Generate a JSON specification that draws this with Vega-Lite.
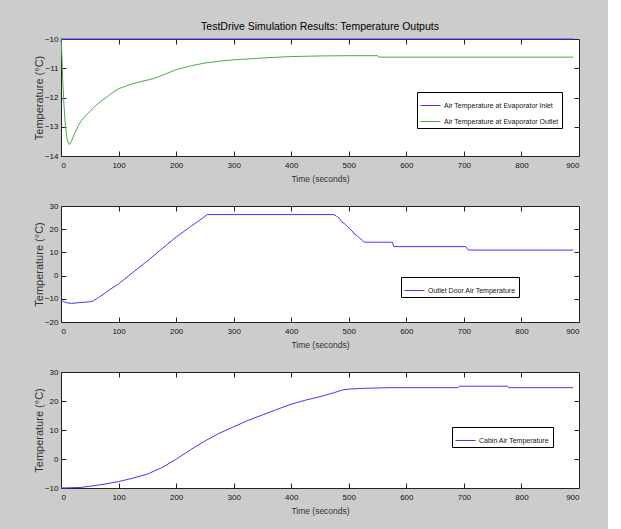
{
  "$schema": "https://vega.github.io/schema/vega-lite/v6.json",
  "autosize": {"type": "pad"},
  "padding": {"left": 32, "top": 21, "right": 28, "bottom": 14},
  "background": "#cccccc",
  "bounds": "flush",
  "spacing": 50,
  "resolve": {"scale": {"color": "independent"}, "legend": {"color": "independent"}},
  "datasets": {
    "evap": [
      {"series": "Air Temperature at Evaporator Inlet", "t": 0, "temp": -10},
      {"series": "Air Temperature at Evaporator Inlet", "t": 890, "temp": -10},
      {"series": "Air Temperature at Evaporator Outlet", "t": 0, "temp": -10.0},
      {"series": "Air Temperature at Evaporator Outlet", "t": 1, "temp": -10.3},
      {"series": "Air Temperature at Evaporator Outlet", "t": 2, "temp": -10.8},
      {"series": "Air Temperature at Evaporator Outlet", "t": 3, "temp": -11.4},
      {"series": "Air Temperature at Evaporator Outlet", "t": 5, "temp": -12.2},
      {"series": "Air Temperature at Evaporator Outlet", "t": 7, "temp": -12.8},
      {"series": "Air Temperature at Evaporator Outlet", "t": 9, "temp": -13.2},
      {"series": "Air Temperature at Evaporator Outlet", "t": 11, "temp": -13.45},
      {"series": "Air Temperature at Evaporator Outlet", "t": 13, "temp": -13.58},
      {"series": "Air Temperature at Evaporator Outlet", "t": 15, "temp": -13.6},
      {"series": "Air Temperature at Evaporator Outlet", "t": 18, "temp": -13.5},
      {"series": "Air Temperature at Evaporator Outlet", "t": 21, "temp": -13.35},
      {"series": "Air Temperature at Evaporator Outlet", "t": 25, "temp": -13.17},
      {"series": "Air Temperature at Evaporator Outlet", "t": 30, "temp": -12.97},
      {"series": "Air Temperature at Evaporator Outlet", "t": 35, "temp": -12.8},
      {"series": "Air Temperature at Evaporator Outlet", "t": 40, "temp": -12.68},
      {"series": "Air Temperature at Evaporator Outlet", "t": 50, "temp": -12.48},
      {"series": "Air Temperature at Evaporator Outlet", "t": 60, "temp": -12.28},
      {"series": "Air Temperature at Evaporator Outlet", "t": 70, "temp": -12.12},
      {"series": "Air Temperature at Evaporator Outlet", "t": 80, "temp": -11.98},
      {"series": "Air Temperature at Evaporator Outlet", "t": 90, "temp": -11.83},
      {"series": "Air Temperature at Evaporator Outlet", "t": 100, "temp": -11.7},
      {"series": "Air Temperature at Evaporator Outlet", "t": 120, "temp": -11.56},
      {"series": "Air Temperature at Evaporator Outlet", "t": 140, "temp": -11.45},
      {"series": "Air Temperature at Evaporator Outlet", "t": 160, "temp": -11.36},
      {"series": "Air Temperature at Evaporator Outlet", "t": 180, "temp": -11.21},
      {"series": "Air Temperature at Evaporator Outlet", "t": 200, "temp": -11.05},
      {"series": "Air Temperature at Evaporator Outlet", "t": 225, "temp": -10.92},
      {"series": "Air Temperature at Evaporator Outlet", "t": 250, "temp": -10.82},
      {"series": "Air Temperature at Evaporator Outlet", "t": 275, "temp": -10.76},
      {"series": "Air Temperature at Evaporator Outlet", "t": 300, "temp": -10.71},
      {"series": "Air Temperature at Evaporator Outlet", "t": 350, "temp": -10.65},
      {"series": "Air Temperature at Evaporator Outlet", "t": 400, "temp": -10.6},
      {"series": "Air Temperature at Evaporator Outlet", "t": 450, "temp": -10.58},
      {"series": "Air Temperature at Evaporator Outlet", "t": 500, "temp": -10.57},
      {"series": "Air Temperature at Evaporator Outlet", "t": 550, "temp": -10.57},
      {"series": "Air Temperature at Evaporator Outlet", "t": 552, "temp": -10.62},
      {"series": "Air Temperature at Evaporator Outlet", "t": 890, "temp": -10.62}
    ],
    "outlet": [
      {"series": "Outlet Door Air Temperature", "t": 0, "temp": -10.5},
      {"series": "Outlet Door Air Temperature", "t": 5, "temp": -11.3},
      {"series": "Outlet Door Air Temperature", "t": 10, "temp": -11.7},
      {"series": "Outlet Door Air Temperature", "t": 18, "temp": -12.0},
      {"series": "Outlet Door Air Temperature", "t": 25, "temp": -11.8},
      {"series": "Outlet Door Air Temperature", "t": 35, "temp": -11.6},
      {"series": "Outlet Door Air Temperature", "t": 50, "temp": -11.3},
      {"series": "Outlet Door Air Temperature", "t": 55, "temp": -11.0},
      {"series": "Outlet Door Air Temperature", "t": 65, "temp": -9.5},
      {"series": "Outlet Door Air Temperature", "t": 75, "temp": -7.8},
      {"series": "Outlet Door Air Temperature", "t": 85, "temp": -6.0},
      {"series": "Outlet Door Air Temperature", "t": 100, "temp": -3.6},
      {"series": "Outlet Door Air Temperature", "t": 125, "temp": 1.4},
      {"series": "Outlet Door Air Temperature", "t": 150, "temp": 6.3},
      {"series": "Outlet Door Air Temperature", "t": 175, "temp": 11.5},
      {"series": "Outlet Door Air Temperature", "t": 200, "temp": 16.6},
      {"series": "Outlet Door Air Temperature", "t": 225, "temp": 21.1},
      {"series": "Outlet Door Air Temperature", "t": 250, "temp": 25.5},
      {"series": "Outlet Door Air Temperature", "t": 254, "temp": 26.3},
      {"series": "Outlet Door Air Temperature", "t": 474, "temp": 26.3},
      {"series": "Outlet Door Air Temperature", "t": 478, "temp": 25.8},
      {"series": "Outlet Door Air Temperature", "t": 480, "temp": 25.3},
      {"series": "Outlet Door Air Temperature", "t": 484, "temp": 24.7},
      {"series": "Outlet Door Air Temperature", "t": 486, "temp": 23.8},
      {"series": "Outlet Door Air Temperature", "t": 488, "temp": 23.0},
      {"series": "Outlet Door Air Temperature", "t": 492, "temp": 22.5},
      {"series": "Outlet Door Air Temperature", "t": 495, "temp": 21.8},
      {"series": "Outlet Door Air Temperature", "t": 498, "temp": 21.0},
      {"series": "Outlet Door Air Temperature", "t": 502, "temp": 20.0},
      {"series": "Outlet Door Air Temperature", "t": 506, "temp": 19.2},
      {"series": "Outlet Door Air Temperature", "t": 510, "temp": 17.9},
      {"series": "Outlet Door Air Temperature", "t": 514, "temp": 17.3},
      {"series": "Outlet Door Air Temperature", "t": 518, "temp": 16.3},
      {"series": "Outlet Door Air Temperature", "t": 521, "temp": 15.8},
      {"series": "Outlet Door Air Temperature", "t": 524, "temp": 15.0},
      {"series": "Outlet Door Air Temperature", "t": 527, "temp": 14.4},
      {"series": "Outlet Door Air Temperature", "t": 576, "temp": 14.4},
      {"series": "Outlet Door Air Temperature", "t": 578, "temp": 12.5},
      {"series": "Outlet Door Air Temperature", "t": 703, "temp": 12.5},
      {"series": "Outlet Door Air Temperature", "t": 708, "temp": 11.0},
      {"series": "Outlet Door Air Temperature", "t": 890, "temp": 11.0}
    ],
    "cabin": [
      {"series": "Cabin Air Temperature", "t": 0, "temp": -10.0},
      {"series": "Cabin Air Temperature", "t": 35, "temp": -9.8},
      {"series": "Cabin Air Temperature", "t": 50, "temp": -9.4},
      {"series": "Cabin Air Temperature", "t": 75, "temp": -8.7},
      {"series": "Cabin Air Temperature", "t": 100, "temp": -7.8},
      {"series": "Cabin Air Temperature", "t": 125, "temp": -6.6},
      {"series": "Cabin Air Temperature", "t": 150, "temp": -5.2},
      {"series": "Cabin Air Temperature", "t": 175, "temp": -3.0},
      {"series": "Cabin Air Temperature", "t": 200, "temp": -0.1},
      {"series": "Cabin Air Temperature", "t": 225, "temp": 3.2},
      {"series": "Cabin Air Temperature", "t": 250, "temp": 6.2},
      {"series": "Cabin Air Temperature", "t": 275, "temp": 8.9},
      {"series": "Cabin Air Temperature", "t": 300, "temp": 11.1},
      {"series": "Cabin Air Temperature", "t": 325, "temp": 13.3},
      {"series": "Cabin Air Temperature", "t": 350, "temp": 15.2},
      {"series": "Cabin Air Temperature", "t": 375, "temp": 17.1},
      {"series": "Cabin Air Temperature", "t": 400, "temp": 18.9},
      {"series": "Cabin Air Temperature", "t": 425, "temp": 20.3},
      {"series": "Cabin Air Temperature", "t": 450, "temp": 21.5},
      {"series": "Cabin Air Temperature", "t": 475, "temp": 22.9},
      {"series": "Cabin Air Temperature", "t": 489, "temp": 23.8},
      {"series": "Cabin Air Temperature", "t": 500, "temp": 24.1},
      {"series": "Cabin Air Temperature", "t": 529, "temp": 24.4},
      {"series": "Cabin Air Temperature", "t": 573, "temp": 24.6},
      {"series": "Cabin Air Temperature", "t": 690, "temp": 24.6},
      {"series": "Cabin Air Temperature", "t": 692, "temp": 25.1},
      {"series": "Cabin Air Temperature", "t": 776, "temp": 25.1},
      {"series": "Cabin Air Temperature", "t": 778, "temp": 24.6},
      {"series": "Cabin Air Temperature", "t": 890, "temp": 24.6}
    ]
  },
  "config": {
    "view": {"stroke": "#222222", "strokeWidth": 1, "fill": "white"},
    "axis": {
      "domain": false,
      "grid": false,
      "ticks": true,
      "tickColor": "#222222",
      "tickSize": -5,
      "labelFont": "Liberation Sans, Arial, sans-serif",
      "labelFontSize": 8,
      "labelColor": "#111111",
      "labelPadding": 8,
      "titleFontWeight": "normal",
      "titleColor": "#333333"
    },
    "axisX": {"titleFont": "Liberation Sans, Arial, sans-serif", "titleFontSize": 8.5, "titlePadding": 5, "labelPadding": 10},
    "axisY": {"titleFont": "Liberation Sans, Arial, sans-serif", "titleFontSize": 11, "titlePadding": 0},
    "legend": {
      "title": null,
      "orient": "none",
      "fillColor": "white",
      "strokeColor": "#000000",
      "padding": 3,
      "cornerRadius": 0,
      "symbolType": "stroke",
      "symbolSize": 400,
      "symbolStrokeWidth": 1.5,
      "symbolOpacity": 1,
      "labelFont": "Liberation Sans, Arial, sans-serif",
      "labelFontSize": 7,
      "labelColor": "#111111",
      "labelOffset": 3,
      "rowPadding": 2,
      "labelLimit": 300
    },
    "line": {"strokeWidth": 1}
  },
  "vconcat": [
    {
      "title": {"text": "TestDrive Simulation Results: Temperature Outputs", "font": "Liberation Sans, Arial, sans-serif", "fontSize": 10.5, "fontWeight": "normal", "color": "#000000", "anchor": "middle", "offset": 3},
      "width": 518,
      "height": 117,
      "data": {"name": "evap"},
      "layer": [
        {
          "mark": "line",
          "encoding": {
            "x": {"field": "t", "type": "quantitative", "scale": {"domain": [0, 900], "nice": false}, "axis": {"values": [0, 100, 200, 300, 400, 500, 600, 700, 800, 900], "title": "Time (seconds)"}},
            "y": {"field": "temp", "type": "quantitative", "scale": {"domain": [-14, -10], "nice": false, "zero": false}, "axis": {"values": [-14, -13, -12, -11, -10], "title": "Temperature (°C)"}},
            "color": {"field": "series", "type": "nominal", "scale": {"domain": ["Air Temperature at Evaporator Inlet", "Air Temperature at Evaporator Outlet"], "range": ["#3a3aff", "#4aaa4a"]}, "legend": {"legendX": 356, "legendY": 53}}
          }
        },
        {
          "mark": {"type": "line", "opacity": 0},
          "encoding": {
            "x": {"field": "t", "type": "quantitative", "axis": {"orient": "top", "labels": false, "title": null, "values": [100, 200, 300, 400, 500, 600, 700, 800]}},
            "y": {"field": "temp", "type": "quantitative", "axis": {"orient": "right", "labels": false, "title": null, "values": [-13, -12, -11]}}
          }
        }
      ],
      "resolve": {"axis": {"x": "independent", "y": "independent"}}
    },
    {
      "width": 518,
      "height": 116,
      "data": {"name": "outlet"},
      "layer": [
        {
          "mark": "line",
          "encoding": {
            "x": {"field": "t", "type": "quantitative", "scale": {"domain": [0, 900], "nice": false}, "axis": {"values": [0, 100, 200, 300, 400, 500, 600, 700, 800, 900], "title": "Time (seconds)"}},
            "y": {"field": "temp", "type": "quantitative", "scale": {"domain": [-20, 30], "nice": false, "zero": false}, "axis": {"values": [-20, -10, 0, 10, 20, 30], "title": "Temperature (°C)"}},
            "color": {"field": "series", "type": "nominal", "scale": {"domain": ["Outlet Door Air Temperature"], "range": ["#3a3aff"]}, "legend": {"legendX": 340, "legendY": 71}}
          }
        },
        {
          "mark": {"type": "line", "opacity": 0},
          "encoding": {
            "x": {"field": "t", "type": "quantitative", "axis": {"orient": "top", "labels": false, "title": null, "values": [100, 200, 300, 400, 500, 600, 700, 800]}},
            "y": {"field": "temp", "type": "quantitative", "axis": {"orient": "right", "labels": false, "title": null, "values": [-10, 0, 10, 20]}}
          }
        }
      ],
      "resolve": {"axis": {"x": "independent", "y": "independent"}}
    },
    {
      "width": 518,
      "height": 116,
      "data": {"name": "cabin"},
      "layer": [
        {
          "mark": "line",
          "encoding": {
            "x": {"field": "t", "type": "quantitative", "scale": {"domain": [0, 900], "nice": false}, "axis": {"values": [0, 100, 200, 300, 400, 500, 600, 700, 800, 900], "title": "Time (seconds)"}},
            "y": {"field": "temp", "type": "quantitative", "scale": {"domain": [-10, 30], "nice": false, "zero": false}, "axis": {"values": [-10, 0, 10, 20, 30], "title": "Temperature (°C)"}},
            "color": {"field": "series", "type": "nominal", "scale": {"domain": ["Cabin Air Temperature"], "range": ["#3a3aff"]}, "legend": {"legendX": 391, "legendY": 55}}
          }
        },
        {
          "mark": {"type": "line", "opacity": 0},
          "encoding": {
            "x": {"field": "t", "type": "quantitative", "axis": {"orient": "top", "labels": false, "title": null, "values": [100, 200, 300, 400, 500, 600, 700, 800]}},
            "y": {"field": "temp", "type": "quantitative", "axis": {"orient": "right", "labels": false, "title": null, "values": [0, 10, 20]}}
          }
        }
      ],
      "resolve": {"axis": {"x": "independent", "y": "independent"}}
    }
  ]
}
